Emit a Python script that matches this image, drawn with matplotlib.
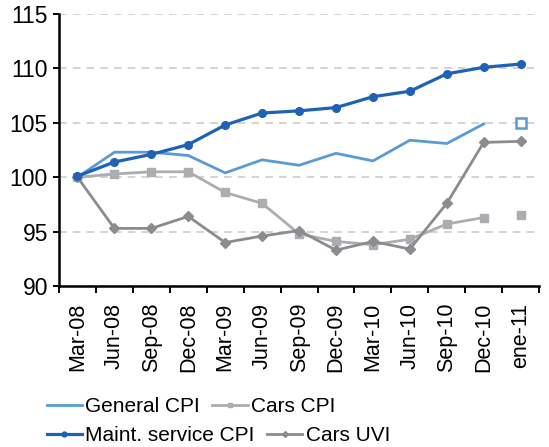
import matplotlib
matplotlib.use("Agg")
import matplotlib.pyplot as plt
from matplotlib.lines import Line2D

plt.rcParams["font.family"] = ["Liberation Sans", "DejaVu Sans"]

# --------------------------------------------------
# Data (index, Mar-08 = 100)
# --------------------------------------------------
quarters = ["Mar-08", "Jun-08", "Sep-08", "Dec-08", "Mar-09", "Jun-09", "Sep-09",
            "Dec-09", "Mar-10", "Jun-10", "Sep-10", "Dec-10", "ene-11"]

general_cpi = [100.0, 102.3, 102.3, 102.0, 100.4, 101.6, 101.1,
               102.2, 101.5, 103.4, 103.1, 104.9]
general_cpi_last = 105.0

cars_cpi = [100.0, 100.3, 100.5, 100.5, 98.6, 97.6, 94.8,
            94.1, 93.8, 94.3, 95.7, 96.3]
cars_cpi_last = 96.5

maint_cpi = [100.1, 101.4, 102.1, 103.0, 104.8, 105.9, 106.1,
             106.4, 107.4, 107.9, 109.5, 110.1, 110.4]

cars_uvi = [100.0, 95.3, 95.3, 96.4, 94.0, 94.6, 95.1,
            93.3, 94.1, 93.4, 97.6, 103.2, 103.3]

# Colours
C_GENERAL = "#5b9bd5"
C_MAINT = "#1f62b4"
C_CARS = "#acadb0"
C_UVI = "#8c8c90"

fig = plt.figure(figsize=(5.49, 4.47), dpi=100)
ax = fig.add_axes([0.1075, 0.36, 0.8745, 0.6087])

x = list(range(len(quarters)))
last = len(quarters) - 1

ax.plot(x[:last], general_cpi, color=C_GENERAL, lw=2.0, zorder=3)
ax.plot([last], [general_cpi_last], ls="none", marker="s", ms=7,
        mfc="white", mec=C_GENERAL, mew=1.8, zorder=4)

ax.plot(x[:last], cars_cpi, color=C_CARS, lw=2.0, marker="s", ms=6, zorder=3)
ax.plot([last], [cars_cpi_last], ls="none", marker="s", ms=6, color=C_CARS, zorder=3)

ax.plot(x, cars_uvi, color=C_UVI, lw=2.0, marker="D", ms=5, zorder=3)
ax.plot(x, maint_cpi, color=C_MAINT, lw=2.3, marker="o", ms=5.5, zorder=5)

# Axes styling
ax.set_ylim(90, 115)
ax.set_yticks([90, 95, 100, 105, 110, 115])
ax.set_xlim(-0.5, last + 0.5)
ax.set_xticks(x)
ax.set_xticklabels(quarters, rotation=90, fontsize=15.5)
ax.set_xticks([i - 0.5 for i in range(len(quarters) + 1)], minor=True)
ax.tick_params(axis="x", which="major", length=0, pad=12)
ax.tick_params(axis="x", which="minor", length=5, width=1.4, direction="out")
ax.tick_params(axis="y", length=4, width=1.4, pad=4, labelsize=16.5)

ax.yaxis.grid(True, color="#c8c8c8", ls=(0, (5, 4)), lw=1.1)
ax.set_axisbelow(True)
for side in ["top", "right"]:
    ax.spines[side].set_visible(False)
ax.spines["left"].set_linewidth(1.8)
ax.spines["bottom"].set_linewidth(1.8)

# Legend, laid out as two flowing rows
row1 = [Line2D([], [], color=C_GENERAL, lw=2.0),
        Line2D([], [], color=C_CARS, lw=2.0, marker="s", ms=3.5)]
row2 = [Line2D([], [], color=C_MAINT, lw=2.3, marker="o", ms=3.5),
        Line2D([], [], color=C_UVI, lw=2.0, marker="D", ms=3)]

common = dict(ncol=2, frameon=False, fontsize=15, handlelength=1.7,
              handletextpad=0.15, columnspacing=0.6, borderpad=0, borderaxespad=0)
fig.legend(row1, ["General CPI", "Cars CPI"], loc="center left",
           bbox_to_anchor=(0.085, 0.091), **common)
fig.legend(row2, ["Maint. service CPI", "Cars UVI"], loc="center left",
           bbox_to_anchor=(0.085, 0.026), **common)

plt.savefig("out.png", dpi=100)
plt.close()
